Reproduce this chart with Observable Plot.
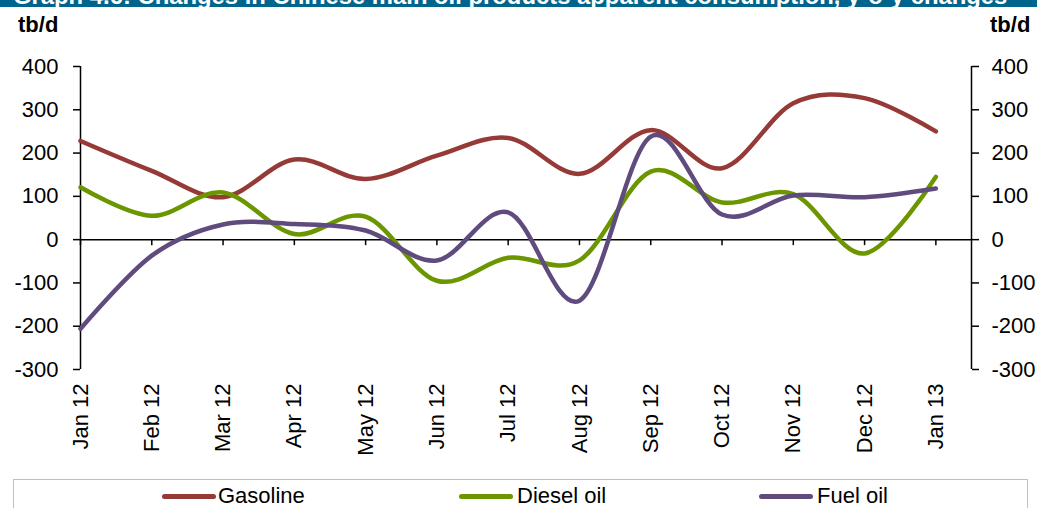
<!DOCTYPE html>
<html>
<head>
<meta charset="utf-8">
<script src="https://cdn.jsdelivr.net/npm/d3@7"></script>
<script src="https://cdn.jsdelivr.net/npm/@observablehq/plot@0.6"></script>
<style>
  html, body { margin: 0; padding: 0; background: #fff; }
  #wrap { position: relative; width: 1037px; height: 508px; overflow: hidden; font-family: "Liberation Sans", Arial, sans-serif; }
  #chart { position: absolute; left: 0; top: 7px; }
  .unit { position: absolute; font-weight: bold; font-size: 22px; line-height: 22px; color: #000; }
  #legend { position: absolute; left: 13px; top: 479px; width: 1015px; height: 40px; border: 1px solid #BFBFBF; box-sizing: border-box; }
  .lg-line { position: absolute; height: 5px; border-radius: 3px; }
  .lg-text { position: absolute; font-size: 22px; line-height: 22px; color: #000; white-space: nowrap; }
</style>
</head>
<body>
<div id="wrap">
  <svg id="titlebar" width="1037" height="7" style="position:absolute;left:0;top:0">
    <rect x="0" y="0" width="1037" height="7" fill="#00648C"></rect>
    <text id="titletext" x="13" y="4" fill="#fff" font-weight="bold" font-family="Liberation Sans, Arial, sans-serif" font-size="22">Graph 4.6: Changes in Chinese main oil products apparent consumption, y-o-y changes</text>
  </svg>
  <div id="chart"></div>
  <span class="unit" style="left:18px; top:14px">tb/d</span>
  <span class="unit" style="left:990px; top:14px">tb/d</span>
  <div id="legendwrap"></div>
</div>
<script>
// ---- Data ----
const months = ["Jan 12","Feb 12","Mar 12","Apr 12","May 12","Jun 12","Jul 12","Aug 12","Sep 12","Oct 12","Nov 12","Dec 12","Jan 13"];
const seriesNames = ["Gasoline","Diesel oil","Fuel oil"];
const seriesColors = ["#963A38","#6B9600","#5F4B7E"];
const gasoline = [228, 159, 98, 185, 140, 194, 235, 152, 253, 165, 315, 327, 250];
const dieselOil = [121, 55, 109, 13, 53, -95, -42, -48, 157, 86, 105, -32, 145];
const fuelOil = [-206, -37, 35, 36, 21, -48, 63, -141, 238, 58, 102, 98, 118];
const yTicks = [-300, -200, -100, 0, 100, 200, 300, 400];

const seriesValues = [gasoline, dieselOil, fuelOil];
const tidy = [];
seriesNames.forEach((name, s) => {
  seriesValues[s].forEach((v, i) => tidy.push({series: name, i, v}));
});
const idx = months.map((_, i) => i);
const xMax = months.length - 0.5;

// fit title text width
const tt = document.getElementById("titletext");
try {
  const w = tt.getComputedTextLength();
  const target = 995;
  tt.setAttribute("font-size", (22 * target / w).toFixed(2));
} catch (e) {}

const chart = Plot.plot({
  width: 1037,
  height: 472,
  marginLeft: 80,
  marginRight: 66,
  marginTop: 59,
  marginBottom: 110,
  x: {domain: [0, xMax]},
  y: {domain: [-300, 400]},
  color: {domain: seriesNames, range: seriesColors},
  style: {fontFamily: "Liberation Sans, Arial, sans-serif", fontSize: "22px", color: "#000", background: "transparent", overflow: "visible"},
  marks: [
    Plot.ruleY([0], {x1: 0, x2: xMax, stroke: "#000", strokeWidth: 1.5}),
    Plot.ruleX(idx, {x: d => d, y1: 0, y2: 0, insetBottom: -6, stroke: "#000", strokeWidth: 1.5}),
    Plot.ruleX([0, xMax], {y1: -300, y2: 400, stroke: "#000", strokeWidth: 1.5}),
    Plot.line(tidy, {x: "i", y: "v", z: "series", stroke: "series", curve: "cardinal", tension: 0, strokeWidth: 4.5, strokeLinecap: "round", strokeLinejoin: "round"}),
    Plot.axisY({anchor: "left", ticks: yTicks, tickSize: 7, tickPadding: 15, label: null, strokeWidth: 1.5, tickFormat: d => String(d)}),
    Plot.axisY({anchor: "right", ticks: yTicks, tickSize: 7, tickPadding: 13, label: null, strokeWidth: 1.5, tickFormat: d => String(d)}),
    Plot.axisX({ticks: idx, tickFormat: i => months[i], tickSize: 0, tickPadding: 14, tickRotate: -90, label: null})
  ]
});
document.getElementById("chart").appendChild(chart);

// ---- Legend ----
const lw = document.getElementById("legendwrap");
const legendPos = [[162, 218], [459, 517], [759, 817]];
seriesNames.forEach((name, s) => {
  const ln = document.createElement("div");
  ln.className = "lg-line";
  ln.style.left = legendPos[s][0] + "px";
  ln.style.width = "54px";
  ln.style.top = "494px";
  ln.style.background = seriesColors[s];
  lw.appendChild(ln);
  const tx = document.createElement("span");
  tx.className = "lg-text";
  tx.style.left = legendPos[s][1] + "px";
  tx.style.top = "485px";
  tx.textContent = name;
  lw.appendChild(tx);
});
const box = document.createElement("div");
box.id = "legend";
lw.prepend(box);
</script>
</body>
</html>
